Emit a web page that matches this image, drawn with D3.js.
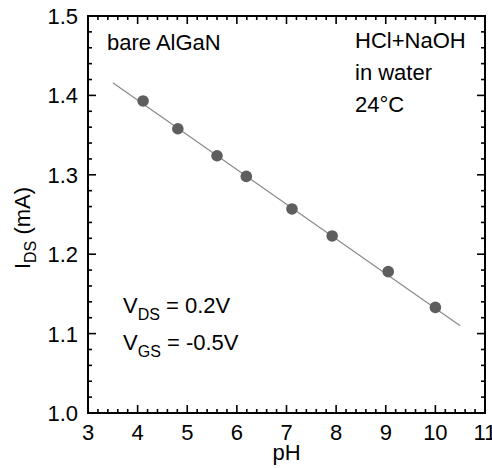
<!DOCTYPE html>
<html>
<head>
<meta charset="utf-8">
<script src="https://cdn.jsdelivr.net/npm/d3@7"></script>
<style>
  html, body { margin: 0; padding: 0; background: #fff; }
  svg { display: block; font-family: "Liberation Sans", Arial, Helvetica, sans-serif; }
</style>
</head>
<body>
<svg id="chart" width="492" height="468"></svg>
<script>
// Drain current vs. pH for a bare AlGaN sensor
const pH = [4.11, 4.81, 5.60, 6.19, 7.11, 7.92, 9.05, 10.0];
const ids = [1.393, 1.358, 1.324, 1.298, 1.257, 1.223, 1.178, 1.133];
// Linear fit line endpoints (pH range and fitted current)
const fitX = [3.5, 10.5];
const fitY = [1.416, 1.110];
const xTicks = [3, 4, 5, 6, 7, 8, 9, 10, 11];
const yTicks = [1.0, 1.1, 1.2, 1.3, 1.4, 1.5];

const svg = d3.select("#chart");
const L = 88, R = 485, T = 16, B = 413;
const x = d3.scaleLinear().domain([3, 11]).range([L, R]);
const y = d3.scaleLinear().domain([1.0, 1.5]).range([B, T]);

const fs = 22;
const subFs = 16;

// inward ticks on all four sides
const xMinor = d3.range(3, 11.001, 0.2).map(v => +v.toFixed(2));
const yMinor = d3.range(1.0, 1.5001, 0.02).map(v => +v.toFixed(3));
const isMajorX = v => Math.abs(v - Math.round(v)) < 1e-6;
const isMajorY = v => Math.abs(v * 10 - Math.round(v * 10)) < 1e-6;

const tickG = svg.append("g").attr("stroke", "#000").attr("stroke-width", 1.6);
xMinor.forEach(v => {
  const len = isMajorX(v) ? 8 : 4;
  tickG.append("line").attr("x1", x(v)).attr("x2", x(v)).attr("y1", B).attr("y2", B - len);
  tickG.append("line").attr("x1", x(v)).attr("x2", x(v)).attr("y1", T).attr("y2", T + len);
});
yMinor.forEach(v => {
  const len = isMajorY(v) ? 8 : 4;
  tickG.append("line").attr("y1", y(v)).attr("y2", y(v)).attr("x1", L).attr("x2", L + len);
  tickG.append("line").attr("y1", y(v)).attr("y2", y(v)).attr("x1", R).attr("x2", R - len);
});

// frame
svg.append("rect").attr("x", L).attr("y", T).attr("width", R - L).attr("height", B - T)
  .attr("fill", "none").attr("stroke", "#000").attr("stroke-width", 2);

// tick labels
svg.append("g").selectAll("text").data(xTicks).join("text")
  .attr("x", d => x(d)).attr("y", 440).attr("text-anchor", "middle")
  .attr("font-size", fs).text(d => d);
svg.append("g").selectAll("text").data(yTicks).join("text")
  .attr("x", 78).attr("y", d => y(d) + 8).attr("text-anchor", "end")
  .attr("font-size", fs).text(d => d.toFixed(1));

// axis titles
svg.append("text").attr("x", (L + R) / 2).attr("y", 460).attr("text-anchor", "middle")
  .attr("font-size", fs).text("pH");
const yt = svg.append("text").attr("transform", `translate(30,228) rotate(-90)`)
  .attr("text-anchor", "middle").attr("font-size", fs);
yt.append("tspan").text("I");
yt.append("tspan").attr("dy", 6).attr("font-size", subFs).text("DS");
yt.append("tspan").attr("dy", -6).text(" (mA)");

// fit line
const line = d3.line().x(d => x(d[0])).y(d => y(d[1]));
svg.append("path").datum(d3.zip(fitX, fitY)).attr("d", line)
  .attr("fill", "none").attr("stroke", "#8a8a8a").attr("stroke-width", 1.2);

// data points
svg.append("g").selectAll("circle").data(d3.zip(pH, ids)).join("circle")
  .attr("cx", d => x(d[0])).attr("cy", d => y(d[1])).attr("r", 5.8)
  .attr("fill", "#5e5e5e");

// annotations
svg.append("text").attr("x", 107).attr("y", 50).attr("font-size", fs).text("bare AlGaN");
["HCl+NaOH", "in water", "24°C"].forEach((t, i) => {
  svg.append("text").attr("x", 355).attr("y", 48 + i * 32).attr("font-size", fs).text(t);
});
function vLabel(yy, sub, rest) {
  const t = svg.append("text").attr("x", 123).attr("y", yy).attr("font-size", fs);
  t.append("tspan").text("V");
  t.append("tspan").attr("dy", 7).attr("font-size", subFs).text(sub);
  t.append("tspan").attr("dy", -7).text(rest);
}
vLabel(313, "DS", " = 0.2V");
vLabel(350, "GS", " = -0.5V");
</script>
</body>
</html>
